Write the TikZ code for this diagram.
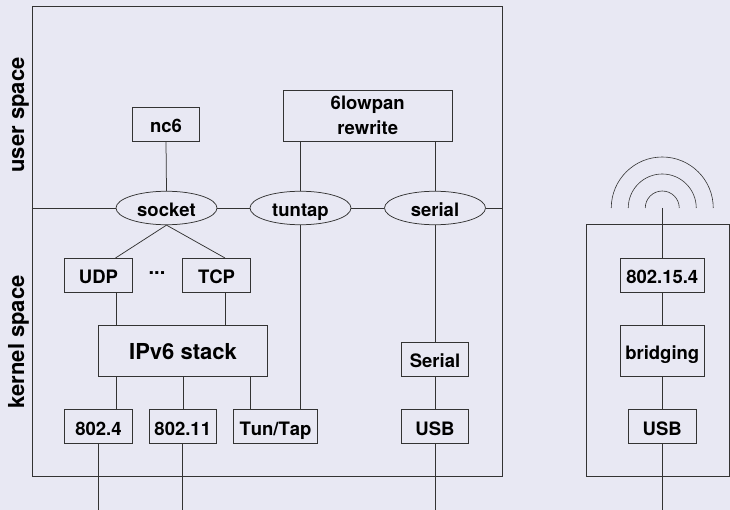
\documentclass[tikz,border=0pt]{standalone}
\usepackage{fontspec}
\setmainfont[Kerning=Off]{TeX Gyre Heros}
\usetikzlibrary{shapes.geometric}
\definecolor{slidebg}{HTML}{E8E8F3}
\definecolor{inkline}{HTML}{333333}
\tikzset{
  wire/.style={draw=inkline, line width=0.75pt},
  block/.style={wire, rectangle, inner sep=0pt, text height=17pt, text depth=0pt, font=\fontsize{18.5}{25}\selectfont\bfseries},
  port/.style={wire, ellipse, inner sep=0pt, text height=17pt, text depth=0pt, minimum width=101, minimum height=33.5, font=\fontsize{18.5}{25}\selectfont\bfseries},
  side/.style={rotate=90, anchor=base, font=\fontsize{22}{26}\selectfont\bfseries}
}

\begin{document}
\begin{tikzpicture}[x=1pt,y=-1pt]
      \def\blockw{67.5}
      \def\blockh{34}

      \fill[slidebg] (0,0) rectangle (730,510);
      \useasboundingbox (0,0) rectangle (730,510);

      \node[wire, rectangle, inner sep=0pt, minimum width=470, minimum height=470.5] (host) at (267,241.25) {};
      \node[wire, rectangle, inner sep=0pt, minimum width=142.5, minimum height=252] (mote) at (657.75,350.5) {};

      \node[side] (userspace) at (24,115) {user space};
      \node[side] (kernelspace) at (24,342) {kernel space};

      \node[port] (socket) at (166.5,208) {socket};
      \node[port] (tuntap) at (300.5,208) {tuntap};
      \node[port] (serial) at (435,208) {serial};

      \node[block, minimum width=\blockw, minimum height=\blockh] (nc6) at (166,124) {nc6};
      \node[block, text height=, text depth=, align=center, minimum width=168.5, minimum height=51] (rewrite) at (367.75,115.5) {6lowpan\\rewrite};

      \node[block, minimum width=\blockw, minimum height=\blockh] (udp) at (98.5,275) {UDP};
      \node[block, minimum width=\blockw, minimum height=\blockh] (tcp) at (216.5,275) {TCP};
      \node[font=\fontsize{20}{24}\selectfont\bfseries, inner sep=0pt] (dots) at (157,273) {...};
      \node[block, minimum width=168.5, minimum height=51, font=\fontsize{22}{26}\selectfont\bfseries] (ipv6) at (183,350.5) {IPv6 stack};

      \node[block, minimum width=\blockw, minimum height=\blockh] (ethernet) at (98.5,426.5) {802.4};
      \node[block, minimum width=\blockw, minimum height=\blockh] (wifi) at (182.75,426.5) {802.11};
      \node[block, minimum width=84, minimum height=\blockh] (tun) at (275.5,426.5) {Tun/Tap};

      \node[block, minimum width=\blockw, minimum height=\blockh] (ser) at (435,359) {Serial};
      \node[block, minimum width=\blockw, minimum height=\blockh] (usb) at (435,426.5) {USB};

      \node[block, minimum width=84.5, minimum height=\blockh] (radio) at (662.25,275) {802.15.4};
      \node[block, minimum width=84.5, minimum height=51] (bridge) at (662.25,350.5) {bridging};
      \node[block, minimum width=\blockw, minimum height=\blockh] (usbmote) at (662.25,426.5) {USB};

      \coordinate (tipudp) at (115.5,258);
      \coordinate (tiptcp) at (225,258);
      \coordinate (xa) at (116,0);
      \coordinate (xb) at (225,0);
      \coordinate (xc) at (250,0);
      \coordinate (xd) at (300.5,0);
      \coordinate (xe) at (435,0);
      \coordinate (floor) at (0,510);
      \coordinate (air) at (662.25,208);

      \draw[wire] (host.west |- socket) -- (socket.west);
      \draw[wire] (socket.east) -- (tuntap.west);
      \draw[wire] (tuntap.east) -- (serial.west);
      \draw[wire] (serial.east) -- (host.east |- serial);

      \draw[wire] (nc6.south) -- (socket.north);
      \draw[wire] (rewrite.south -| xd) -- (tuntap.north);
      \draw[wire] (rewrite.south -| xe) -- (serial.north);
      \draw[wire] (socket.south) -- (tipudp);
      \draw[wire] (socket.south) -- (tiptcp);
      \draw[wire] (tuntap.south) -- (tun.north -| xd);
      \draw[wire] (serial.south) -- (ser.north);
      \draw[wire] (ser.south) -- (usb.north);

      \draw[wire] (udp.south -| xa) -- (ipv6.north -| xa);
      \draw[wire] (tcp.south -| xb) -- (ipv6.north -| xb);
      \draw[wire] (ipv6.south -| xa) -- (ethernet.north -| xa);
      \draw[wire] (ipv6.south) -- (wifi.north -| ipv6.south);
      \draw[wire] (ipv6.south -| xc) -- (tun.north -| xc);

      \draw[wire] (ethernet.south) -- (ethernet.south |- floor);
      \draw[wire] (wifi.south) -- (wifi.south |- floor);
      \draw[wire] (usb.south) -- (usb.south |- floor);

      \draw[wire] (air) -- (radio.north);
      \draw[wire] (radio.south) -- (bridge.north);
      \draw[wire] (bridge.south) -- (usbmote.north);
      \draw[wire] (usbmote.south) -- (usbmote.south |- floor);

      \draw[draw=inkline, line width=0.6pt] ([xshift=17]air) arc (0:-180:17);
      \draw[draw=inkline, line width=0.6pt] ([xshift=34]air) arc (0:-180:34);
      \draw[draw=inkline, line width=0.6pt] ([xshift=51]air) arc (0:-180:51);

    \end{tikzpicture}
\end{document}
